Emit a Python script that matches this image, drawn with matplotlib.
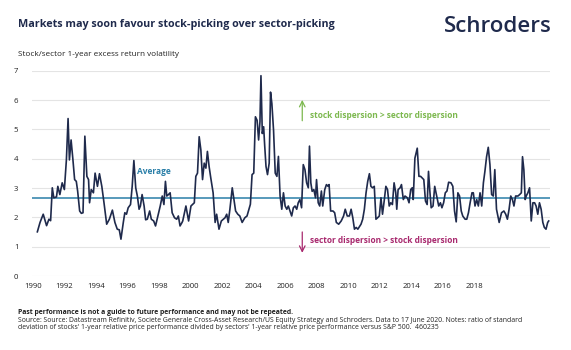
import matplotlib
matplotlib.use("Agg")
import matplotlib.pyplot as plt
import numpy as np

# ---------------- data ----------------
years = [
    1990.02, 1990.18, 1990.37, 1990.57, 1990.71, 1990.81, 1990.91, 1991.00, 1991.16, 1991.24,
    1991.36, 1991.50, 1991.63, 1991.75, 1991.85, 1991.93, 1992.03, 1992.14, 1992.24, 1992.34,
    1992.42, 1992.54, 1992.64, 1992.74, 1992.85, 1992.97, 1993.07, 1993.13, 1993.23, 1993.36,
    1993.46, 1993.60, 1993.72, 1993.86, 1993.99, 1994.15, 1994.31, 1994.49, 1994.64, 1994.78,
    1994.90, 1995.00, 1995.14, 1995.23, 1995.33, 1995.43, 1995.57, 1995.67, 1995.77, 1995.88,
    1995.98, 1996.08, 1996.16, 1996.26, 1996.38, 1996.47, 1996.57, 1996.71, 1996.81, 1996.95,
    1997.06, 1997.20, 1997.34, 1997.46, 1997.56, 1997.65, 1997.73, 1997.83, 1997.93, 1998.05,
    1998.19, 1998.32, 1998.42, 1998.52, 1998.64, 1998.68, 1998.87, 1999.03, 1999.17, 1999.37,
    1999.46, 1999.56, 1999.66, 1999.76, 1999.86, 1999.96, 2000.06, 2000.15, 2000.25, 2000.35,
    2000.49, 2000.61, 2000.70, 2000.84, 2000.98, 2001.10, 2001.20, 2001.30, 2001.39, 2001.49,
    2001.63, 2001.73, 2001.83, 2001.96, 2002.08, 2002.22, 2002.38, 2002.51, 2002.71, 2002.81,
    2002.91, 2003.01, 2003.11, 2003.20, 2003.28, 2003.34, 2003.42, 2003.50, 2003.56, 2003.64,
    2003.73, 2003.83, 2003.91, 2003.99, 2004.09, 2004.19, 2004.29, 2004.38, 2004.48, 2004.58,
    2004.68, 2004.78, 2004.88, 2004.97, 2005.07, 2005.17, 2005.27, 2005.37, 2005.47, 2005.56,
    2005.66, 2005.76, 2005.86, 2005.96, 2006.06, 2006.16, 2006.23, 2006.31, 2006.39, 2006.49,
    2006.59, 2006.65, 2006.75, 2006.84, 2006.94, 2007.02, 2007.14, 2007.24, 2007.34, 2007.40,
    2007.49, 2007.63, 2007.73, 2007.83, 2007.97, 2008.12, 2008.26, 2008.36, 2008.48, 2008.61,
    2008.71, 2008.81, 2008.91, 2009.01, 2009.11, 2009.30, 2009.40, 2009.50, 2009.60, 2009.70,
    2009.80, 2009.89, 2009.99, 2010.09, 2010.19, 2010.29, 2010.39, 2010.49, 2010.58, 2010.68,
    2010.78, 2010.88, 2010.98, 2011.07, 2011.17, 2011.27, 2011.37, 2011.43, 2011.51, 2011.63,
    2011.71, 2011.82, 2011.92, 2012.06, 2012.16, 2012.26, 2012.35, 2012.41, 2012.51, 2012.65,
    2012.75, 2012.85, 2012.94, 2013.04, 2013.14, 2013.24, 2013.32, 2013.40, 2013.48, 2013.59,
    2013.69, 2013.79, 2013.93, 2014.03, 2014.12, 2014.22, 2014.32, 2014.42, 2014.52, 2014.66,
    2014.77, 2014.87, 2014.97, 2015.07, 2015.17, 2015.27, 2015.36, 2015.50, 2015.60, 2015.70,
    2015.80, 2015.91, 2015.99, 2016.09, 2016.19, 2016.29, 2016.39, 2016.49, 2016.59, 2016.68,
    2016.78, 2016.88, 2016.98, 2017.08, 2017.18, 2017.27, 2017.37, 2017.53, 2017.67, 2017.81,
    2017.92, 2018.02, 2018.12, 2018.22, 2018.32, 2018.41, 2018.51, 2018.65, 2018.75, 2018.85,
    2018.92, 2019.00, 2019.08, 2019.14, 2019.24, 2019.34, 2019.44, 2019.54, 2019.64, 2019.73,
    2019.83, 2019.93, 2020.03, 2020.13, 2020.22, 2020.32, 2020.42, 2020.48,
]
volatility = [
    1.51, 1.83, 2.11, 1.72, 1.94, 1.89, 3.01, 2.67, 2.70, 3.06,
    2.78, 3.18, 2.95, 3.96, 5.37, 3.96, 4.64, 3.96, 3.29, 3.23,
    2.90, 2.22, 2.14, 2.16, 4.77, 3.40, 3.29, 2.50, 2.95, 2.84,
    3.51, 3.06, 3.49, 3.06, 2.50, 1.77, 1.94, 2.25, 1.83, 1.60,
    1.58, 1.26, 1.83, 2.16, 2.11, 2.33, 2.44, 3.06, 3.94, 3.01,
    2.72, 2.28, 2.39, 2.78, 2.39, 1.92, 1.94, 2.22, 1.94, 1.88,
    1.71, 2.05, 2.39, 2.73, 2.44, 3.23, 2.73, 2.78, 2.84, 2.16,
    1.99, 1.94, 2.05, 1.71, 1.83, 1.88, 2.39, 1.88, 2.39, 2.50,
    3.40, 3.51, 4.75, 4.30, 3.29, 3.85, 3.68, 4.25, 3.74, 3.35,
    2.84, 1.83, 2.11, 1.60, 1.88, 1.94, 1.99, 2.11, 1.83, 2.28,
    3.01, 2.61, 2.22, 2.11, 2.05, 1.83, 1.99, 2.05, 2.45, 3.46,
    3.51, 5.43, 5.31, 4.64, 5.26, 6.83, 4.86, 5.09, 4.47, 3.74,
    3.46, 3.85, 6.27, 5.88, 4.97, 3.51, 3.40, 4.08, 2.73, 2.28,
    2.84, 2.39, 2.28, 2.39, 2.22, 2.05, 2.33, 2.39, 2.28, 2.50,
    2.61, 2.33, 3.80, 3.63, 3.18, 3.01, 4.43, 3.18, 2.89, 2.95,
    2.67, 3.29, 2.50, 2.39, 2.90, 2.39, 2.95, 3.12, 3.06, 3.12,
    2.22, 2.22, 2.16, 1.83, 1.77, 1.88, 2.05, 2.28, 2.05, 2.05,
    2.28, 1.99, 1.60, 1.66, 1.60, 1.77, 1.94, 2.28, 2.84, 3.23,
    3.49, 3.06, 3.01, 3.06, 1.94, 1.99, 2.05, 2.67, 2.11, 2.56,
    3.06, 2.95, 2.39, 2.50, 2.44, 3.18, 2.84, 2.28, 2.95, 3.01,
    3.12, 2.61, 2.73, 2.67, 2.50, 2.95, 3.01, 2.61, 4.02, 4.36,
    3.40, 3.40, 3.35, 3.29, 2.56, 2.44, 3.57, 2.90, 2.33, 2.39,
    3.06, 2.78, 2.39, 2.50, 2.33, 2.50, 2.84, 2.90, 3.20, 3.18,
    3.06, 2.22, 1.85, 2.84, 2.73, 2.22, 2.05, 1.94, 1.94, 2.16,
    2.50, 2.84, 2.84, 2.39, 2.61, 2.39, 2.84, 2.39, 3.18, 3.57,
    4.07, 4.39, 3.80, 2.78, 2.73, 3.63, 2.28, 1.83, 2.16, 2.22,
    2.11, 1.94, 2.28, 2.73, 2.61, 2.39, 2.73, 2.73, 2.78, 2.84,
    4.07, 3.63, 2.61, 2.73, 2.84, 3.01, 1.88, 2.50, 2.50, 2.39,
    2.11, 2.50, 2.28, 1.83, 1.66, 1.60, 1.83, 1.88,
]
average = 2.65
year_labels = ["1990", "1992", "1994", "1996", "1998", "2000", "2002", "2004",
               "2006", "2008", "2010", "2012", "2014", "2016", "2018"]
y_ticks = [0, 1, 2, 3, 4, 5, 6, 7]

title = "Markets may soon favour stock-picking over sector-picking"
y_title = "Stock/sector 1-year excess return volatility"
footer_bold = "Past performance is not a guide to future performance and may not be repeated."
footer_1 = ("Source: Source: Datastream Refinitiv, Societe Generale Cross-Asset Research/US Equity "
            "Strategy and Schroders. Data to 17 June 2020. Notes: ratio of standard")
footer_2 = ("deviation of stocks' 1-year relative price performance divided by sectors' 1-year "
            "relative price performance versus S&P 500.  460235")

# ---------------- styling ----------------
plt.rcParams['font.family'] = ['Open Sans', 'DejaVu Sans']
NAVY = "#1f2a4c"
TEAL = "#2a7fa8"
GREEN = "#7cb84e"
MAGENTA = "#a8296e"
GRID = "#e4e4e4"
TXT = "#222222"

fig = plt.figure(figsize=(5.71, 3.5), dpi=100)
fig.patch.set_facecolor("white")
ax = fig.add_axes([0.056, 0.211, 0.907, 0.587])

ax.plot(years, volatility, color=NAVY, lw=1.2, zorder=3, solid_joinstyle='round')
ax.axhline(average, color=TEAL, lw=1.1, zorder=2)

ax.set_ylim(0, 7)
ax.set_xlim(1989.7, 2020.55)
ax.set_yticks(y_ticks)
ax.set_yticklabels([str(v) for v in y_ticks])
ax.set_xticks(np.linspace(1989.76, 2016.04, len(year_labels)))
ax.set_xticklabels(year_labels)
ax.grid(axis='y', color=GRID, lw=0.8)
ax.set_axisbelow(True)
for s in ax.spines.values():
    s.set_visible(False)
ax.tick_params(axis='both', length=0, labelsize=5.6, colors=TXT)
ax.tick_params(axis='y', pad=13)
for lab in ax.get_yticklabels():
    lab.set_horizontalalignment('left')
ax.tick_params(axis='x', pad=5)

# annotations
ax.text(1995.96, 3.55, "Average", color=TEAL, fontsize=6, fontweight='bold', va='center', ha='left')
ax.annotate("", xy=(2005.8, 6.1), xytext=(2005.8, 5.2),
            arrowprops=dict(arrowstyle='->', color=GREEN, lw=0.9))
ax.text(2006.25, 5.46, "stock dispersion > sector dispersion", color=GREEN, fontsize=6,
        fontweight='bold', va='center', ha='left')
ax.annotate("", xy=(2005.8, 0.7), xytext=(2005.8, 1.6),
            arrowprops=dict(arrowstyle='->', color=MAGENTA, lw=0.9))
ax.text(2006.25, 1.2, "sector dispersion > stock dispersion", color=MAGENTA, fontsize=6,
        fontweight='bold', va='center', ha='left')

# titles, logo, footer
fig.text(0.032, 0.93, title, fontsize=7.75, fontweight='bold', color=NAVY, va='center', ha='left')
fig.text(0.032, 0.843, y_title, fontsize=5.85, color=TXT, va='center', ha='left')
fig.text(0.967, 0.925, "Schroders", fontsize=16, fontweight='semibold', color=NAVY,
         va='center', ha='right')
fig.text(0.032, 0.108, footer_bold, fontsize=4.95, fontweight='bold', color=TXT, va='center', ha='left')
fig.text(0.032, 0.085, footer_1, fontsize=4.95, color=TXT, va='center', ha='left')
fig.text(0.032, 0.064, footer_2, fontsize=4.95, color=TXT, va='center', ha='left')

fig.savefig("out.png", dpi=100, facecolor="white")
